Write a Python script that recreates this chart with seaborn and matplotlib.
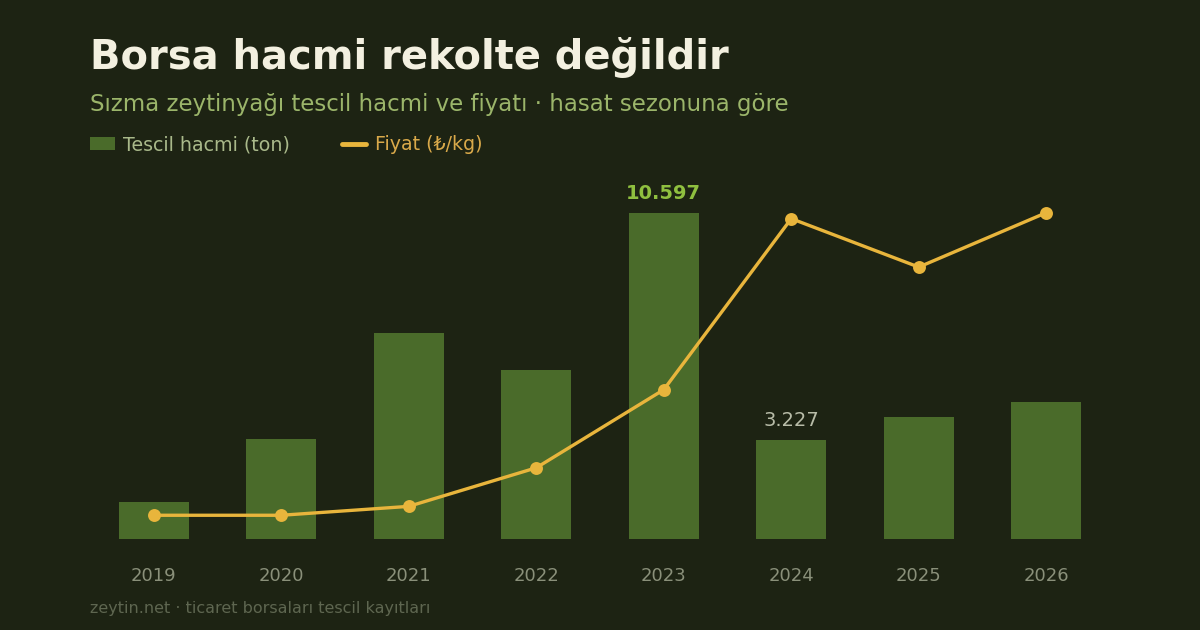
import matplotlib
matplotlib.use("Agg")
import matplotlib.pyplot as plt
import seaborn as sns
from matplotlib.patches import Patch
from matplotlib.lines import Line2D

# data
years = ["2019", "2020", "2021", "2022", "2023", "2024", "2025", "2026"]
volume_ton = [1192, 3248, 6681, 5489, 10597, 3227, 3972, 4450]
price_tl_kg = [24, 24, 33, 72, 151, 324, 275, 330]
labelled = {"2023": "peak", "2024": "low"}

BG = "#1d2313"
BAR = "#4a6b2a"
GOLD = "#e8b53c"

sns.set_theme(style="white")
plt.rcParams["font.family"] = ["DejaVu Sans"]

fig = plt.figure(figsize=(12, 6.3), dpi=100, facecolor=BG)
# axes placed so that the category band spans 90..1110 px, baseline at y=539
ax = fig.add_axes([90 / 1200, 91 / 630, 1020 / 1200, (539 - 170) / 630])
ax.set_facecolor(BG)

sns.barplot(x=years, y=volume_ton, ax=ax, color=BAR, width=0.55,
            saturation=1, edgecolor="none")

vmax = max(volume_ton)
top_frac = (539 - 170) / 326.3
ax.set_ylim(0, vmax * top_frac)

ax2 = ax.twinx()
sns.pointplot(x=years, y=price_tl_kg, ax=ax2, color=GOLD, markers="o",
              linestyles="-", linewidth=2.4, markersize=7.5)
ax2.set_ylim(0, max(price_tl_kg) * top_frac)
ax.set_xlim(-0.5, len(years) - 0.5)
ax2.set_xlim(-0.5, len(years) - 0.5)

for a in (ax, ax2):
    for s in a.spines.values():
        s.set_visible(False)
    a.set_ylabel("")
    a.set_yticks([])
ax.tick_params(axis="x", length=0, pad=20, labelsize=13, labelcolor="#8a907a")

# value labels
for i, (yr, v) in enumerate(zip(years, volume_ton)):
    if yr not in labelled:
        continue
    txt = f"{v:,}".replace(",", ".")
    if labelled[yr] == "peak":
        ax.annotate(txt, (i, v), xytext=(0, 7), textcoords="offset points",
                    ha="center", va="bottom", fontsize=14, fontweight="bold",
                    color="#8fbf3f")
    else:
        ax.annotate(txt, (i, v), xytext=(0, 7), textcoords="offset points",
                    ha="center", va="bottom", fontsize=14, color="#b8bca8")

# titles
fig.text(90 / 1200, 1 - 58 / 630, "Borsa hacmi rekolte değildir", fontsize=28.8,
         fontweight="bold", color="#f3f0e0", va="center", ha="left")
fig.text(90 / 1200, 1 - 104 / 630,
         "Sızma zeytinyağı tescil hacmi ve fiyatı · hasat sezonuna göre",
         fontsize=16.5, color="#9bb56a", va="center", ha="left")

handles = [Patch(facecolor=BAR, edgecolor="none"),
           Line2D([0], [0], color=GOLD, linewidth=3.5)]
leg = fig.legend(handles, ["Tescil hacmi (ton)", "Fiyat (₺/kg)"], ncol=2,
                 loc="center left", bbox_to_anchor=(90 / 1200, 1 - 145 / 630),
                 frameon=False, fontsize=13.7, handlelength=1.3, handleheight=0.65,
                 handletextpad=0.45, columnspacing=2.7, borderpad=0,
                 borderaxespad=0)
leg.get_texts()[0].set_color("#a9b98a")
leg.get_texts()[1].set_color("#d9a94a")

fig.text(90 / 1200, 1 - 608 / 630, "zeytin.net · ticaret borsaları tescil kayıtları",
         fontsize=11.5, color="#5e6650", va="center", ha="left")

fig.savefig("out.png", dpi=100, facecolor=BG)
